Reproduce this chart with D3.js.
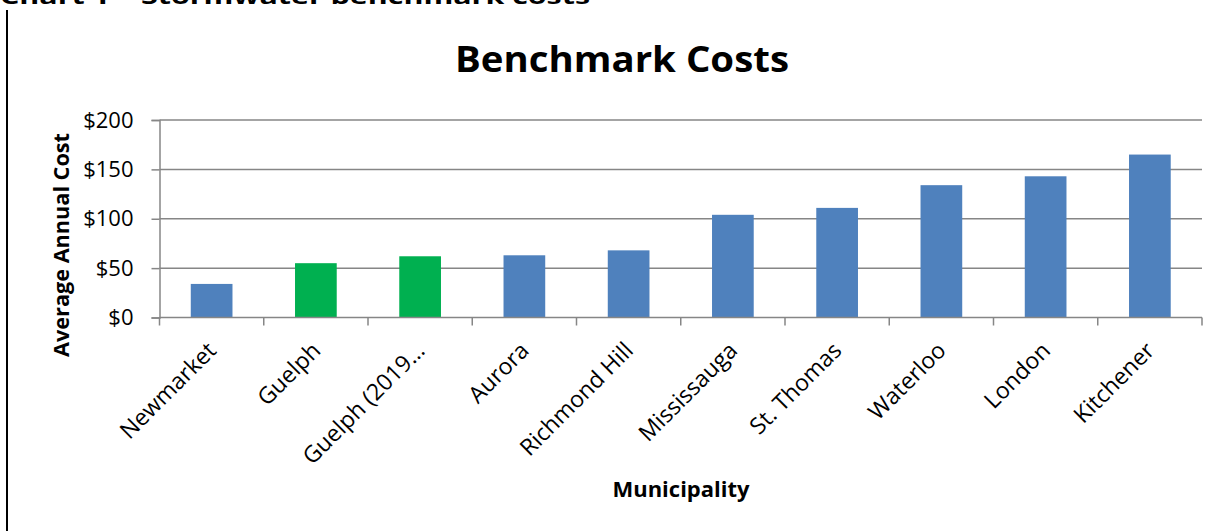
<!DOCTYPE html>
<html>
<head>
<meta charset="utf-8">
<script src="https://cdn.jsdelivr.net/npm/d3@7"></script>
<style>
  html, body { margin: 0; padding: 0; background: #fff; }
  svg { display: block; }
  text { font-family: "Open Sans", "Liberation Sans", sans-serif; fill: #000; }
</style>
</head>
<body>
<svg id="chart" width="1226" height="531"></svg>
<script>
const categories = ["Newmarket", "Guelph", "Guelph (2019\u2026", "Aurora", "Richmond Hill",
                    "Mississauga", "St. Thomas", "Waterloo", "London", "Kitchener"];
const values = [34, 55, 62, 63, 68, 104, 111, 134, 143, 165];
const highlighted = ["Guelph", "Guelph (2019\u2026"];
const yTicks = [0, 50, 100, 150, 200];
const pageHeading = "Chart 1 \u2013 Stormwater benchmark costs";
const chartTitle = "Benchmark Costs";
const xTitle = "Municipality";
const yTitle = "Average Annual Cost";

const svg = d3.select("#chart");
const plot = { left: 159.5, right: 1202, top: 120, bottom: 317.5 };

const x = d3.scaleBand().domain(categories).range([plot.left, plot.right])
  .paddingInner(0.6).paddingOuter(0.3);
const y = d3.scaleLinear().domain([0, 200]).range([plot.bottom, plot.top]);

// page heading (clipped at top, as in the source) and left border line
svg.append("text").attr("x", 0).attr("y", 4)
  .attr("font-weight", "bold").attr("font-size", 22)
  .attr("textLength", 590).attr("lengthAdjust", "spacingAndGlyphs")
  .text(pageHeading);
svg.append("line").attr("x1", 7).attr("x2", 7).attr("y1", 10).attr("y2", 531)
  .attr("stroke", "#000").attr("stroke-width", 2);

// gridlines
svg.append("g").selectAll("line").data(yTicks.filter(d => d > 0)).join("line")
  .attr("x1", plot.left).attr("x2", plot.right)
  .attr("y1", d => y(d)).attr("y2", d => y(d))
  .attr("stroke", "#868686").attr("stroke-width", 1.5);

// y axis
const yAxis = svg.append("g").attr("transform", `translate(${plot.left},0)`)
  .call(d3.axisLeft(y).tickValues(yTicks).tickFormat(d => "$" + d).tickSize(8).tickPadding(18));
yAxis.select(".domain").attr("stroke", "#868686").attr("stroke-width", 1.5);
yAxis.selectAll(".tick line").attr("stroke", "#868686").attr("stroke-width", 1.5);
yAxis.selectAll(".tick text").attr("font-size", 22).attr("font-family", "Open Sans").attr("fill", "#000");

// bars
svg.append("g").selectAll("rect").data(categories).join("rect")
  .attr("x", d => x(d)).attr("width", x.bandwidth())
  .attr("y", (d, i) => y(values[i])).attr("height", (d, i) => y(0) - y(values[i]))
  .attr("fill", d => highlighted.includes(d) ? "#00B050" : "#4F81BD");

// x axis line and boundary ticks
const step = x.step();
const bounds = d3.range(categories.length + 1).map(i => plot.left + i * step);
svg.append("line").attr("x1", plot.left).attr("x2", plot.right)
  .attr("y1", y(0)).attr("y2", y(0)).attr("stroke", "#868686").attr("stroke-width", 1.5);
svg.append("g").selectAll("line").data(bounds).join("line")
  .attr("x1", d => d).attr("x2", d => d).attr("y1", y(0)).attr("y2", y(0) + 8)
  .attr("stroke", "#868686").attr("stroke-width", 1.5);

// x labels rotated
svg.append("g").selectAll("text").data(categories).join("text")
  .attr("transform", d => `translate(${x(d) + x.bandwidth() / 2 + 6},352) rotate(-45)`)
  .attr("text-anchor", "end").attr("font-size", 23)
  .text(d => d);

// titles
svg.append("text").attr("x", 455).attr("y", 72)
  .attr("font-weight", "bold").attr("font-size", 36)
  .attr("textLength", 334).attr("lengthAdjust", "spacingAndGlyphs")
  .text(chartTitle);
svg.append("text").attr("x", 681).attr("y", 497).attr("text-anchor", "middle")
  .attr("font-weight", "bold").attr("font-size", 21)
  .attr("textLength", 137).attr("lengthAdjust", "spacingAndGlyphs")
  .text(xTitle);
svg.append("text").attr("transform", "translate(69,245) rotate(-90)").attr("text-anchor", "middle")
  .attr("font-weight", "bold").attr("font-size", 21)
  .attr("textLength", 224).attr("lengthAdjust", "spacingAndGlyphs")
  .text(yTitle);
</script>
</body>
</html>
